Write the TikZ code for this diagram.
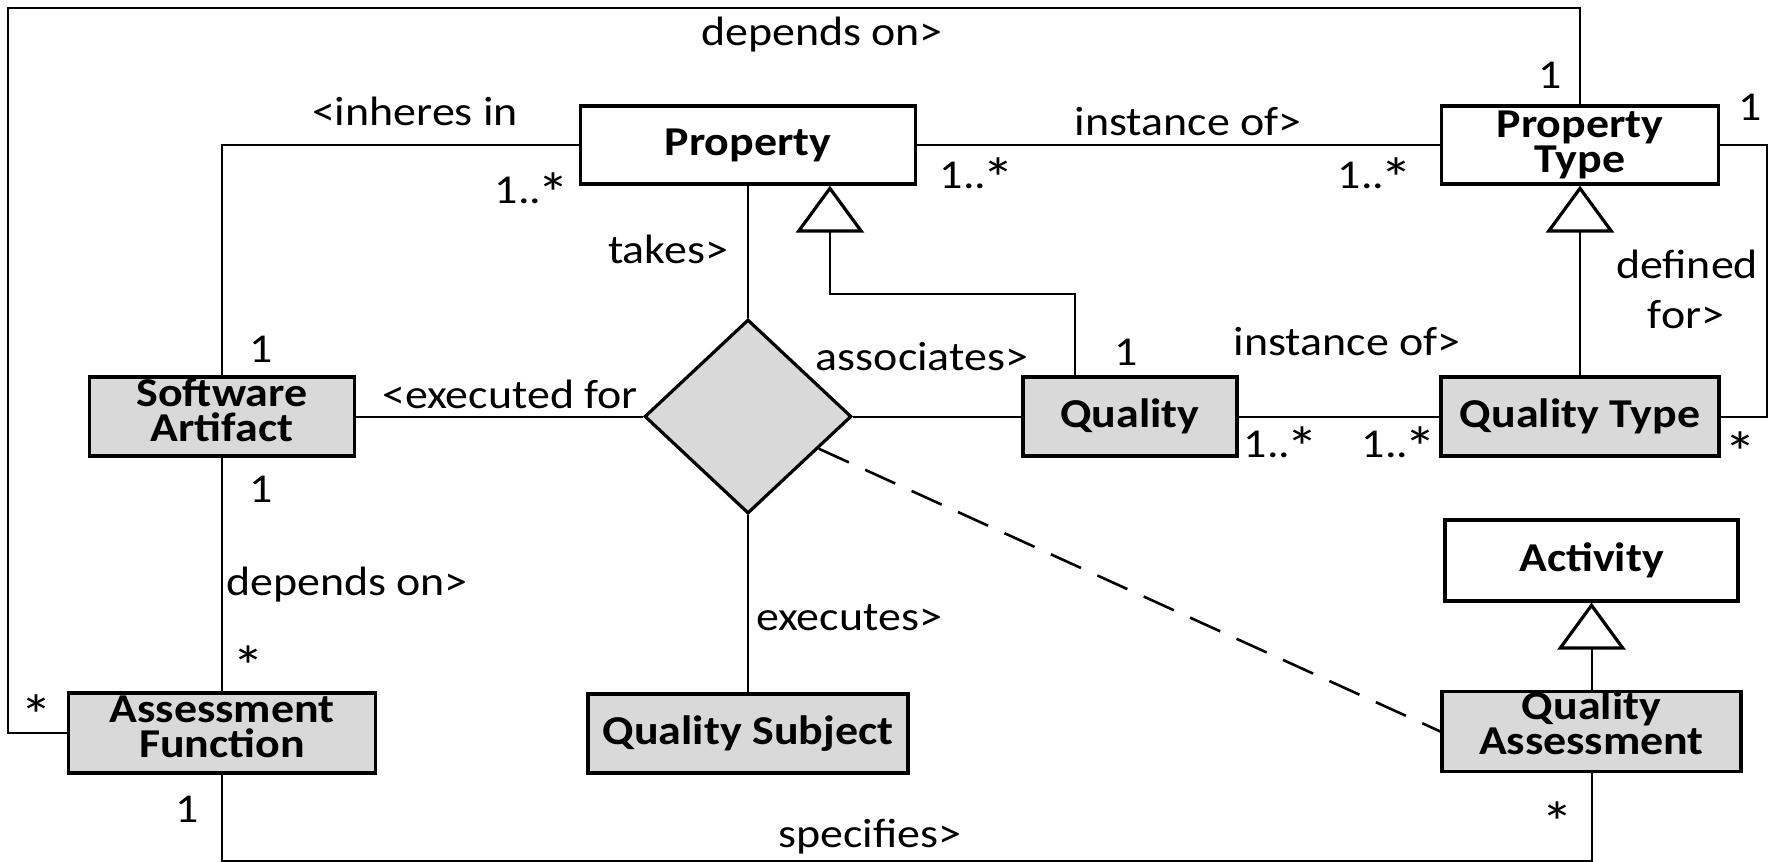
\documentclass[tikz,border=0pt]{standalone}
\usepackage{fontspec}
\setmainfont{Carlito}[FakeStretch=1.12]
\usetikzlibrary{shapes.geometric,arrows.meta,calc}
\definecolor{boxgray}{RGB}{217,217,217}
% multiplicity asterisk, enlarged and lowered to sit at digit height
\newcommand\many{\kern-0.1em\raisebox{-0.25em}{\scalebox{1.4}{*}}}

\begin{document}
\begin{tikzpicture}[x=0.5pt,y=-0.5pt,
  cls/.style={draw, line width=1.6pt, inner sep=0pt, align=center,
    font=\fontsize{20.5}{17.5}\selectfont\bfseries},
  plainbox/.style={cls, fill=white},
  shadedbox/.style={cls, fill=boxgray},
  conn/.style={line width=1pt},
  gen/.style={conn, -{Triangle[open, length=23.5pt, width=34pt, line width=1.6pt]}},
  dashline/.style={line width=1.3pt, dash pattern=on 16.5pt off 9pt},
  lab/.style={anchor=base, inner sep=0pt, font=\fontsize{20.5}{24}\selectfont},
]
\useasboundingbox (0,0) rectangle (1773,862);

% classes
\node[plainbox, minimum width=167.5pt, minimum height=39pt] (prop) at (748,145) {Property};
\node[plainbox, minimum width=138.5pt, minimum height=39pt] (pt) at (1580,145) {Property\\Type};
\node[shadedbox, minimum width=132.5pt, minimum height=39.5pt] (sa) at (222,416.5) {Software\\Artifact\rule[-6.5pt]{0pt}{0pt}};
\node[diamond, draw, line width=1.6pt, fill=boxgray, minimum width=103.5pt, minimum height=97pt, inner sep=0pt] (dia) at (748,416.5) {};
\node[shadedbox, minimum width=107pt, minimum height=39.5pt] (q) at (1130,416.5) {Quality};
\node[shadedbox, minimum width=139pt, minimum height=39.5pt] (qt) at (1580,416.5) {Quality Type};
\node[plainbox, minimum width=146.5pt, minimum height=40.5pt] (act) at (1591.5,560.5) {Activity};
\node[shadedbox, minimum width=149.5pt, minimum height=39.5pt] (qa) at (1591.5,731.5) {Quality\\Assessment\rule[-8.5pt]{0pt}{0pt}};
\node[shadedbox, minimum width=153.5pt, minimum height=40pt] (af) at (222,733) {Assessment\\Function\rule[-6pt]{0pt}{0pt}};
\node[shadedbox, minimum width=160pt, minimum height=39.5pt] (qs) at (748,733.5) {Quality Subject};

% associations
\coordinate (frame) at (8,8);
\draw[conn] (af.west) -| (frame) -| (pt.north);
\draw[conn] (sa.north) |- (prop.west);
\draw[conn] (prop.east) -- (pt.west);
\draw[conn] (pt.east) -- ++(47,0) |- (qt.east);
\draw[conn] (prop.south) -- (dia.north);
\draw[conn] (sa.east) -- (dia.west);
\draw[conn] (dia.east) -- (q.west);
\draw[conn] (q.east) -- (qt.west);
\draw[conn] (sa.south) -- (af.north);
\draw[conn] (dia.south) -- (qs.north);
\draw[conn] (af.south) -- ++(0,86) -| (qa.south);
\draw[dashline] (dia) -- (qa.west);

% generalizations
\draw[gen] ($(q.north west)+(54,0)$) |- ($(prop.south west)+(251,108)$) -- ($(prop.south west)+(251,0)$);
\draw[gen] (qt.north) -- (pt.south);
\draw[gen] (qa.north) -- (act.south);

% role names and multiplicities
\node[lab] (l1) at (822,45) {depends on>};
\node[lab] (l2) at (415,125) {<inheres in};
\node[lab] (l3) at (532,203) {1..\many};
\node[lab] (l4) at (668,263) {takes>};
\node[lab] (l5) at (261,362) {1};
\node[lab] (l6) at (510,408) {<executed for};
\node[lab] (l7) at (922,370) {associates>};
\node[lab] (l8) at (1126,365) {1};
\node[lab] (l9) at (1188,135) {instance of>};
\node[lab] (l10) at (977,188) {1..\many};
\node[lab] (l11) at (1375,188) {1..\many};
\node[lab] (l12) at (1550,88) {1};
\node[lab] (l13) at (1750,120) {1};
\node[lab] (l14) at (1687,278) {defined};
\node[lab] (l15) at (1686,328) {for>};
\node[lab] (l16) at (1347,355) {instance of>};
\node[lab] (l17) at (1281,457) {1..\many};
\node[lab] (l18) at (1399,457) {1..\many};
\node[lab] (l19) at (1743,462) {\many};
\node[lab] (l20) at (261,502) {1};
\node[lab] (l21) at (347,595) {depends on>};
\node[lab] (l22) at (251,676) {\many};
\node[lab] (l23) at (39,725) {\many};
\node[lab] (l24) at (187,822) {1};
\node[lab] (l25) at (849,630) {executes>};
\node[lab] (l26) at (870,847) {specifies>};
\node[lab] (l27) at (1560,832) {\many};
\end{tikzpicture}
\end{document}
